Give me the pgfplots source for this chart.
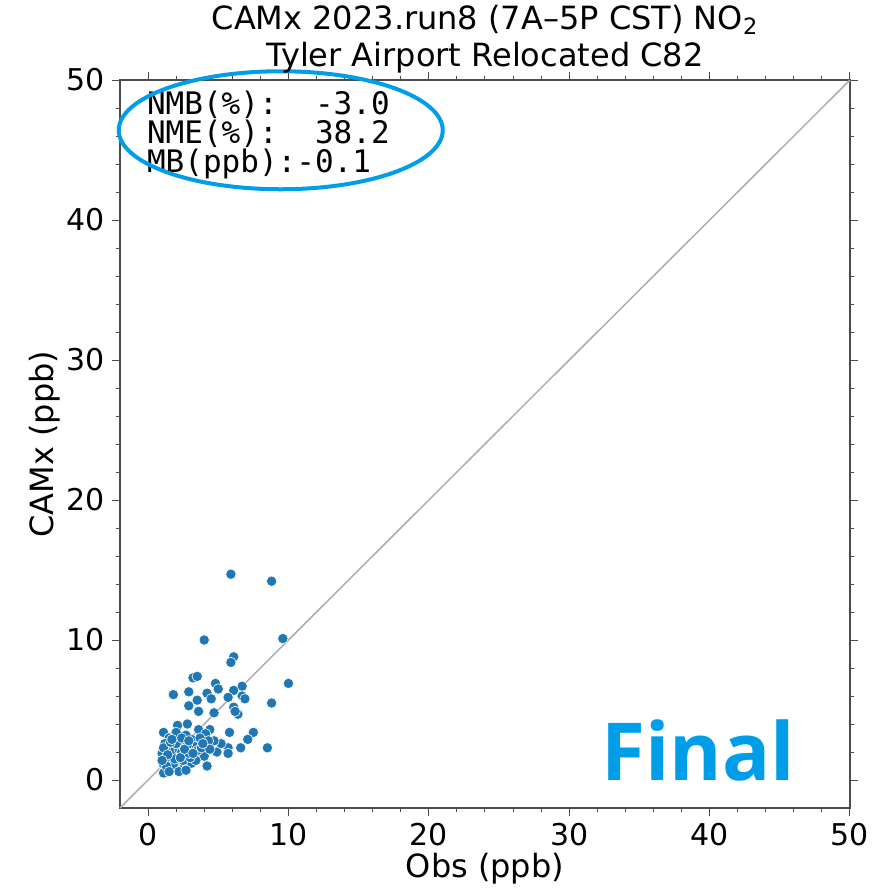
\documentclass[border=0pt]{standalone}
\usepackage{fontspec}
\setmainfont{DejaVu Sans}
\newfontfamily\monofont{DejaVu Sans Mono}
\newfontfamily\finalfont{Open Sans}
\usepackage{graphicx}
\usepackage{pgfplots}
\pgfplotsset{compat=1.18}
\definecolor{mplblue}{HTML}{1F77B4}
\definecolor{annblue}{RGB}{0,158,232}

\pgfplotstableread{
x y
5.9 14.7
8.8 14.2
4.0 10.0
9.6 10.1
6.1 8.8
5.9 8.4
3.2 7.3
3.5 7.4
10.0 6.9
4.8 6.9
6.7 6.7
5.0 6.5
1.8 6.1
2.9 6.3
4.2 6.2
6.1 6.4
5.7 5.9
6.7 6.0
6.9 5.8
4.5 5.8
3.5 5.7
2.9 5.3
8.8 5.5
6.1 5.2
3.6 4.9
4.7 4.8
6.4 4.7
6.2 4.9
1.1 3.4
2.1 3.9
2.8 4.0
2.0 3.4
3.6 3.6
4.4 3.6
4.1 3.3
5.8 3.4
7.5 3.4
7.1 2.9
6.6 2.3
8.5 2.3
5.7 2.3
5.7 1.9
4.9 2.0
5.2 2.6
4.7 2.8
4.3 2.8
4.2 1.0
3.6 1.9
4.0 1.7
3.0 2.2
2.5 2.6
3.1 2.9
3.7 3.0
1.5 3.0
1.2 2.6
1.4 2.2
1.8 2.4
2.3 2.8
2.7 3.2
3.3 2.4
2.6 1.7
2.1 1.8
1.7 1.6
1.2 1.6
1.1 1.1
1.2 0.7
1.7 0.8
2.1 0.9
2.6 1.0
3.1 1.2
3.4 1.4
1.5 1.2
2.0 1.3
2.5 1.4
3.0 1.6
1.1 0.5
1.3 2.0
1.6 2.0
1.9 2.1
2.2 2.2
2.4 2.0
1.0 1.9
1.4 1.4
1.8 1.1
2.8 2.5
3.5 2.1
2.0 2.6
1.1 2.3
1.6 2.7
2.9 1.9
3.8 2.3
4.4 2.2
2.2 0.6
2.7 0.7
1.3 1.0
1.5 0.6
1.9 1.5
2.3 1.6
1.4 1.8
2.6 2.2
3.2 1.9
1.7 2.9
2.4 3.0
3.9 2.6
1.0 1.4
2.9 2.8
}\pts

\begin{document}
\begin{tikzpicture}
\useasboundingbox (-60pt,-41.5pt) rectangle (378.5pt,404pt);
\begin{axis}[
  at={(0,0)}, anchor=south west,
  scale only axis, width=365pt, height=364pt,
  xmin=-2, xmax=50, ymin=-2, ymax=50,
  xtick={0,10,...,50}, ytick={0,10,...,50},
  minor x tick num=4, minor y tick num=4,
  tick align=outside,
  major tick length=4pt, minor tick length=2.2pt,
  every tick/.style={black!70, line width=0.5pt},
  axis line style={black!70, line width=0.6pt},
  tick label style={font=\fontsize{15}{18}\selectfont},
  /pgf/number format/assume math mode=true,
  xlabel={Obs (ppb)}, ylabel={CAMx (ppb)},
  label style={font=\fontsize{16}{19}\selectfont},
  xlabel style={yshift=3pt},
  ylabel style={yshift=-3.5pt},
  title={CAMx 2023.run8 (7A–5P CST) NO\textsubscript{2}\\Tyler Airport Relocated C82},
  title style={font=\fontsize{16}{18.5}\selectfont, align=center, at={(0.5,1)}, anchor=south, yshift=-6pt},
  clip=false,
]
\addplot[only marks, mark=*, mark size=2.6pt, mark options={fill=mplblue, draw=white, line width=0.3pt}] table {\pts};
\addplot[no markers, color=black!32, line width=0.75pt] coordinates {(-2,-2) (50,50)};
\node[anchor=north west, inner sep=0pt, align=left, font={\fontsize{15.5}{14.5}\selectfont\monofont}] at (axis cs:-0.1,49.25) {NMB(\%):\ \ -3.0\\NME(\%):\ \ 38.2\\MB(ppb):-0.1};
\draw[annblue, line width=2pt] (axis cs:9.45,46.41) ellipse [x radius=81pt, y radius=29.5pt];
\node[anchor=base, inner sep=0pt, text=annblue, font={\fontsize{40}{40}\selectfont\finalfont\bfseries}] at (axis cs:39.2,-0.07) {Final};
\end{axis}
\end{tikzpicture}
\end{document}
